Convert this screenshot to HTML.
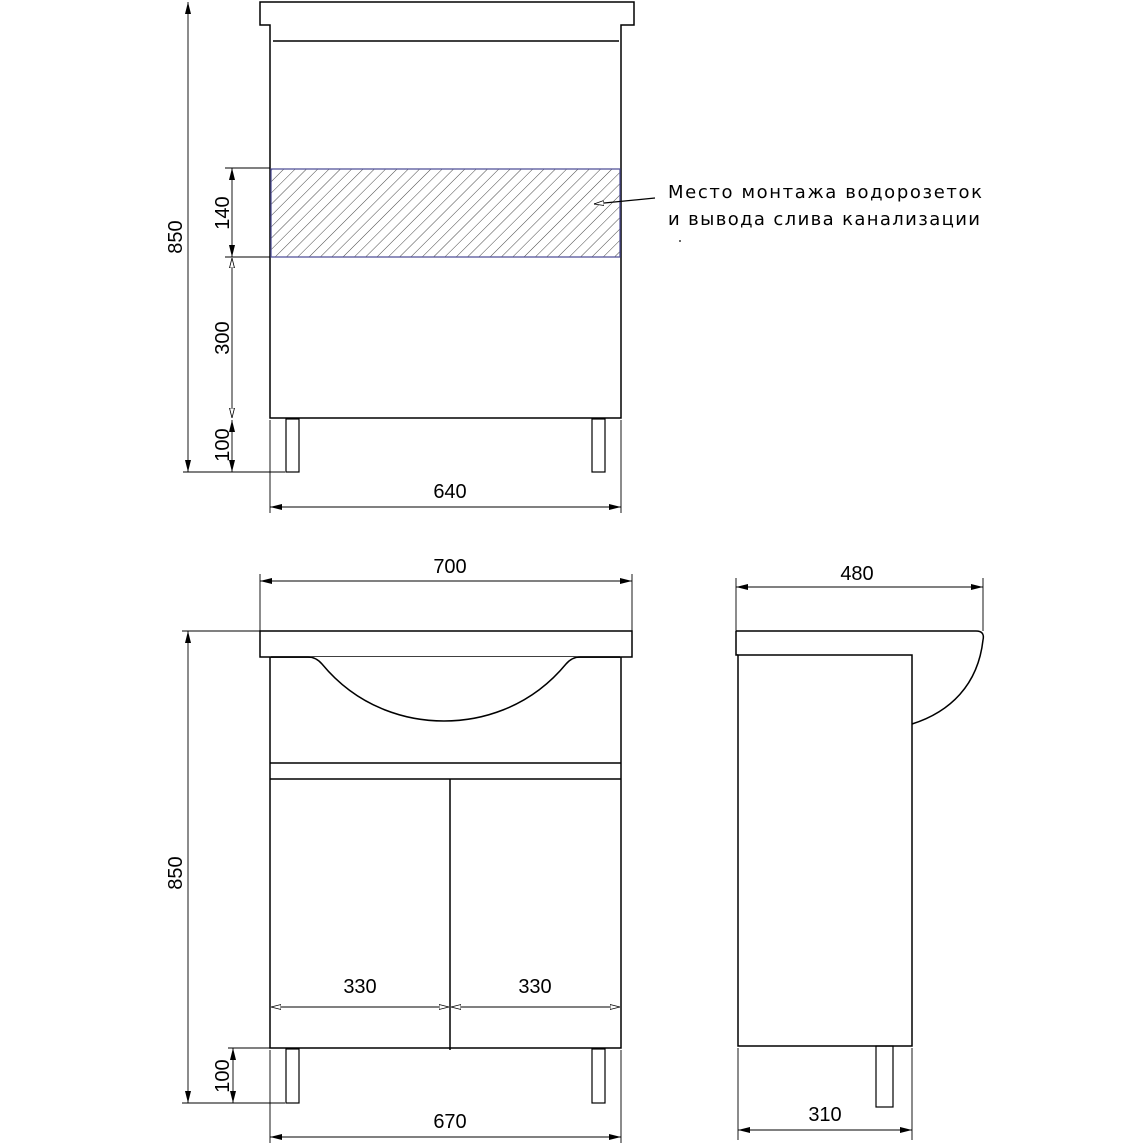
<!DOCTYPE html>
<html><head><meta charset="utf-8"><style>html,body{margin:0;padding:0;background:#fff}svg{display:block}</style></head>
<body>
<svg width="1144" height="1144" viewBox="0 0 1144 1144" xmlns="http://www.w3.org/2000/svg" font-family="Liberation Sans, sans-serif">
<defs>
<pattern id="h" width="8" height="8" patternUnits="userSpaceOnUse" patternTransform="rotate(45)">
<line x1="0" y1="0" x2="0" y2="8" stroke="#333" stroke-width="0.9"/>
</pattern>
<marker id="a" markerWidth="12" markerHeight="8" refX="12" refY="4" orient="auto-start-reverse" markerUnits="userSpaceOnUse">
<path d="M0,1 L12,4 L0,7 Z" fill="#000"/>
</marker>
<marker id="o" markerWidth="10" markerHeight="6" refX="10" refY="3" orient="auto-start-reverse" markerUnits="userSpaceOnUse">
<path d="M0,0.5 L10,3 L0,5.5 Z" fill="#fff" stroke="#000" stroke-width="0.8"/>
</marker>
</defs>
<g fill="none" stroke="#000" stroke-width="1.5">
<path d="M260,2 H634 V25 H621 V418 H270 V25 H260 Z" fill="#fff"/>
<line x1="273" y1="41" x2="619" y2="41"/>
<rect x="271" y="169" width="349" height="88" fill="url(#h)" stroke="#55559a" stroke-width="1.3"/>
<rect x="286" y="419" width="13" height="53" stroke-width="1.2"/>
<rect x="592" y="419" width="13" height="53" stroke-width="1.2"/>
</g>
<g stroke="#000" stroke-width="0.9" fill="none">
<line x1="188" y1="2" x2="188" y2="472" marker-start="url(#a)" marker-end="url(#a)"/>
<line x1="183" y1="472" x2="285" y2="472"/>
<line x1="225" y1="168" x2="270" y2="168"/>
<line x1="225" y1="257" x2="270" y2="257"/>
<line x1="232" y1="168" x2="232" y2="257" marker-start="url(#a)" marker-end="url(#a)"/>
<line x1="232" y1="258" x2="232" y2="418" marker-start="url(#o)" marker-end="url(#o)"/>
<line x1="232" y1="420" x2="232" y2="472" marker-start="url(#a)" marker-end="url(#a)"/>
<line x1="270" y1="420" x2="270" y2="513"/>
<line x1="621" y1="420" x2="621" y2="513"/>
<line x1="270" y1="507" x2="621" y2="507" marker-start="url(#a)" marker-end="url(#a)"/>
<line x1="655" y1="198" x2="594" y2="204" stroke-width="1.2" marker-end="url(#o)"/>
</g>
<g font-size="20" fill="#000">
<text transform="translate(182,237) rotate(-90)" text-anchor="middle">850</text>
<text transform="translate(229,213) rotate(-90)" text-anchor="middle">140</text>
<text transform="translate(229,338) rotate(-90)" text-anchor="middle">300</text>
<text transform="translate(229,445) rotate(-90)" text-anchor="middle">100</text>
<text x="450" y="498" text-anchor="middle">640</text>
</g>
<g font-family="DejaVu Sans, sans-serif" font-size="18" fill="#000">
<text x="668" y="198" textLength="314">Место монтажа водорозеток</text>
<text x="668" y="225" textLength="312">и вывода слива канализации</text>
</g>
<circle cx="680" cy="241" r="0.9" fill="#000"/>

<g fill="none" stroke="#000" stroke-width="1.5">
<rect x="270" y="657" width="351" height="391" fill="#fff"/>
<path d="M260,631 H632 V657 H260 Z" fill="#fff"/>
<path d="M271,657 H308 Q316,657 322,664 C360,710 410,721 444,721 C478,721 528,710 566,664 Q572,657 580,657 H620" fill="#fff"/>
<line x1="270" y1="763" x2="621" y2="763"/>
<line x1="270" y1="779" x2="621" y2="779"/>
<line x1="450" y1="779" x2="450" y2="1050"/>
<rect x="286" y="1049" width="13" height="54" stroke-width="1.2"/>
<rect x="592" y="1049" width="13" height="54" stroke-width="1.2"/>
</g>
<g stroke="#000" stroke-width="0.9" fill="none">
<line x1="260" y1="574" x2="260" y2="631"/>
<line x1="632" y1="574" x2="632" y2="631"/>
<line x1="260" y1="581" x2="632" y2="581" marker-start="url(#a)" marker-end="url(#a)"/>
<line x1="182" y1="631" x2="260" y2="631"/>
<line x1="188" y1="631" x2="188" y2="1103" marker-start="url(#a)" marker-end="url(#a)"/>
<line x1="182" y1="1103" x2="285" y2="1103"/>
<line x1="228" y1="1048" x2="270" y2="1048"/>
<line x1="233" y1="1048" x2="233" y2="1103" marker-start="url(#a)" marker-end="url(#a)"/>
<line x1="271" y1="1007" x2="449" y2="1007" marker-start="url(#o)" marker-end="url(#o)"/>
<line x1="451" y1="1007" x2="620" y2="1007" marker-start="url(#o)" marker-end="url(#o)"/>
<line x1="270" y1="1050" x2="270" y2="1143"/>
<line x1="621" y1="1050" x2="621" y2="1143"/>
<line x1="270" y1="1137" x2="621" y2="1137" marker-start="url(#a)" marker-end="url(#a)"/>
</g>
<g font-size="20" fill="#000">
<text x="450" y="573" text-anchor="middle">700</text>
<text transform="translate(182,873) rotate(-90)" text-anchor="middle">850</text>
<text transform="translate(229,1076) rotate(-90)" text-anchor="middle">100</text>
<text x="360" y="993" text-anchor="middle">330</text>
<text x="535" y="993" text-anchor="middle">330</text>
<text x="450" y="1128" text-anchor="middle">670</text>
</g>

<g fill="none" stroke="#000" stroke-width="1.5">
<rect x="738" y="655" width="174" height="391" fill="#fff"/>
<path d="M736,631 H976 Q985,631 983,640 C978,685 950,712 912,724" fill="none"/>
<path d="M736,631 V655 H738"/>
<rect x="876" y="1046" width="17" height="61" stroke-width="1.2"/>
</g>
<g stroke="#000" stroke-width="0.9" fill="none">
<line x1="736" y1="578" x2="736" y2="631"/>
<line x1="983" y1="578" x2="983" y2="631"/>
<line x1="736" y1="587" x2="983" y2="587" marker-start="url(#a)" marker-end="url(#a)"/>
<line x1="738" y1="1048" x2="738" y2="1140"/>
<line x1="912" y1="1048" x2="912" y2="1140"/>
<line x1="738" y1="1130" x2="912" y2="1130" marker-start="url(#a)" marker-end="url(#a)"/>
</g>
<g font-size="20" fill="#000">
<text x="857" y="580" text-anchor="middle">480</text>
<text x="825" y="1121" text-anchor="middle">310</text>
</g>
</svg>
</body></html>
